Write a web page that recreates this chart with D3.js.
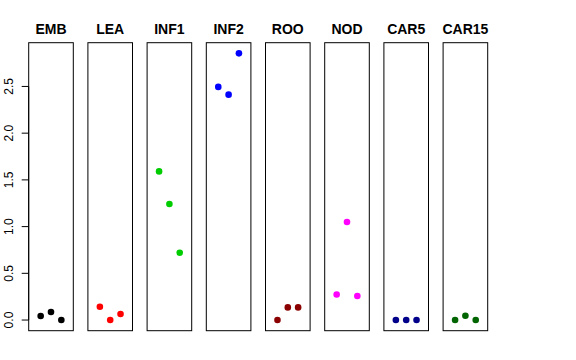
<!DOCTYPE html>
<html><head><meta charset="utf-8">
<script src="https://cdn.jsdelivr.net/npm/d3@7"></script>
<style>body{margin:0;background:#fff}svg{display:block}text{font-family:"Liberation Sans",Arial,sans-serif}</style>
</head><body><svg id="c" width="576" height="360"></svg>
<script>
const categories = ["EMB","LEA","INF1","INF2","ROO","NOD","CAR5","CAR15"];
const colors = ["#000000","#FF0000","#00CD00","#0000FF","#8B0000","#FF00FF","#00008B","#006400"];
const replicates = [1,2,3];
const values = [
  [0.043,0.086,0.0],
  [0.142,0.0,0.064],
  [1.591,1.242,0.72],
  [2.495,2.412,2.854],
  [0.0,0.135,0.135],
  [0.274,1.049,0.257],
  [0.0,0.0,0.0],
  [0.0,0.046,0.0]
];
const yTicks = [0,0.5,1,1.5,2,2.5];

(function(){
const svg = d3.select("#c");
const pTop = 42.7, pBottom = 330.7, panelW = 44.6, step = 59.2, left0 = 28.7;
const ymax = d3.max(values.flat()), ymin = 0, yext = (ymax-ymin)*0.04;
const y = d3.scaleLinear().domain([ymin-yext, ymax+yext]).range([pBottom, pTop]);
const x0 = d3.scaleLinear().domain([0,categories.length]).range([left0, left0+step*categories.length]);

categories.forEach((cat,i)=>{
  const px = x0(i);
  const x = d3.scaleLinear().domain([-0.16,4.16]).range([px, px+panelW]);
  const g = svg.append("g");
  g.append("rect").attr("x",px).attr("y",pTop).attr("width",panelW).attr("height",pBottom-pTop)
    .attr("fill","none").attr("stroke","#000").attr("stroke-width",1);
  g.append("text").attr("x",px+panelW/2).attr("y",33.5).attr("text-anchor","middle")
    .attr("font-weight","bold").attr("font-size","14px").text(cat);
  g.selectAll("circle").data(values[i]).enter().append("circle")
    .attr("cx",(d,j)=>x(replicates[j])).attr("cy",d=>y(d)).attr("r",3.3).attr("fill",colors[i]);
});

const axis = d3.axisLeft(y).tickValues(yTicks).tickFormat(d3.format(".1f")).tickSizeOuter(0).tickSize(7).tickPadding(4);
const ag = svg.append("g").attr("transform",`translate(${left0},0)`).call(axis);
ag.select(".domain").attr("d",`M0,${y(0)}V${y(2.5)}`).attr("stroke","#000");
ag.selectAll(".tick").attr("transform",null);
ag.selectAll(".tick line").attr("stroke","#000").attr("y1",d=>y(d)).attr("y2",d=>y(d)).attr("x2",-7);
ag.selectAll(".tick text").attr("font-size","12px").attr("fill","#000")
  .attr("font-family","Liberation Sans, Arial, sans-serif")
  .attr("x",-16).attr("dy",null).attr("y",d=>y(d)).attr("text-anchor","middle")
  .attr("transform",d=>`rotate(-90,-16,${y(d)})`);
})();
</script></body></html>
